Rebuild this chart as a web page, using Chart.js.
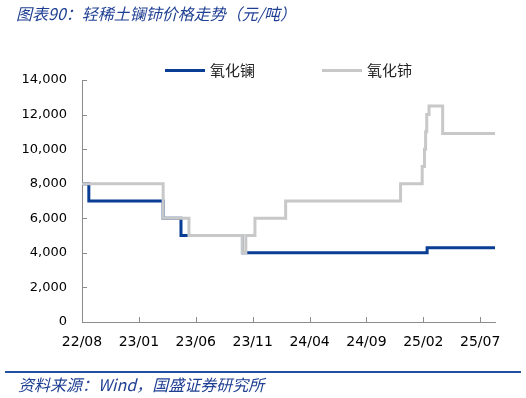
<!DOCTYPE html>
<html>
<head>
<meta charset="utf-8">
<script src="https://cdn.jsdelivr.net/npm/chart.js@4"></script>
<style>
  html, body { margin: 0; padding: 0; background: #fff; }
  #wrap { position: relative; width: 526px; height: 398px; overflow: hidden; }
  canvas { position: absolute; left: 0; top: 0; }
  .title { position: absolute; left: 16px; top: 3px; font: italic 16px "Noto Sans CJK SC", sans-serif; color: #1f3f93; white-space: nowrap; line-height: 20px; }
  .foot-line { position: absolute; left: 5px; top: 371px; width: 516px; height: 2px; background: #2450a0; }
  .foot { position: absolute; left: 18px; top: 374px; font: italic 16px "Noto Sans CJK SC", sans-serif; color: #1f3f93; white-space: nowrap; line-height: 20px; }
  .legend { position: absolute; top: 61px; left: 0; height: 18px; font: 15px "Noto Sans CJK SC", sans-serif; color: #222; white-space: nowrap; line-height: 18px; }
  .legend .item { position: absolute; top: 0; }
  .legend .sw { position: absolute; top: 7.5px; width: 40px; height: 3px; }
  .legend .tx { position: absolute; left: 45px; top: 0; }
</style>
</head>
<body>
<div id="wrap">
  <canvas id="c" width="526" height="398"></canvas>
  <div class="title">图表90：轻稀土镧铈价格走势（元/吨）</div>
  <div class="legend">
    <div class="item" style="left:165px"><div class="sw" style="background:#0a3e94"></div><div class="tx">氧化镧</div></div>
    <div class="item" style="left:322px"><div class="sw" style="background:#c8c8c8"></div><div class="tx">氧化铈</div></div>
  </div>
  <div class="foot-line"></div>
  <div class="foot">资料来源：Wind，国盛证券研究所</div>
</div>
<script>
// ---- data ----
const seriesNames = ['氧化镧', '氧化铈'];
// change dates (value holds from that date) and values, yuan/ton
const laDates  = ['2022-08-01','2022-08-19','2023-03-05','2023-04-22','2023-10-04','2025-02-11','2025-08-10'];
const laValues = [8000, 7000, 6000, 5000, 4000, 4300, 4300];
const ceDates  = ['2022-08-01','2023-03-05','2023-05-13','2023-10-04','2023-10-13','2023-11-07','2024-01-28','2024-12-01','2025-01-28','2025-02-04','2025-02-07','2025-02-10','2025-02-16','2025-03-22','2025-08-10'];
const ceValues = [8000, 6000, 5000, 4000, 5000, 6000, 7000, 8000, 9000, 10000, 11000, 12000, 12500, 10900, 10900];
const xTickLabels = ['22/08','23/01','23/06','23/11','24/04','24/09','25/02','25/07'];
const xTickDates  = ['2022-08-01','2023-01-01','2023-06-01','2023-11-01','2024-04-01','2024-09-01','2025-02-01','2025-07-01'];
const yTicks = [0, 2000, 4000, 6000, 8000, 10000, 12000, 14000];
const xEndDate = '2025-08-10';

// ---- helpers ----
function monthsOf(s) {
  const [y, m, d] = s.split('-').map(Number);
  return (y - 2022) * 12 + (m - 8) + (d - 1) / 30;
}
const toPoints = (dates, vals) => dates.map((d, i) => ({ x: monthsOf(d), y: vals[i] }));

const axisColor = '#8c8c8c';
const innerTicks = {
  id: 'innerTicks',
  beforeDatasetsDraw(chart) {
    const { ctx, chartArea, scales: { x, y } } = chart;
    ctx.save();
    ctx.strokeStyle = axisColor;
    ctx.lineWidth = 1;
    ctx.beginPath();
    y.ticks.forEach((t, i) => {
      const py = Math.round(y.getPixelForTick(i)) + 0.5;
      ctx.moveTo(chartArea.left, py); ctx.lineTo(chartArea.left + 5, py);
    });
    x.ticks.forEach((t, i) => {
      const px = Math.round(x.getPixelForTick(i)) + 0.5;
      ctx.moveTo(px, chartArea.bottom); ctx.lineTo(px, chartArea.bottom - 5);
    });
    ctx.stroke();
    ctx.restore();
  }
};

new Chart(document.getElementById('c'), {
  type: 'line',
  data: {
    datasets: [
      { label: seriesNames[0], data: toPoints(laDates, laValues), borderColor: '#0a3e94', borderWidth: 3, stepped: 'before', pointRadius: 0, order: 2, borderJoinStyle: 'miter' },
      { label: seriesNames[1], data: toPoints(ceDates, ceValues), borderColor: '#c8c8c8', borderWidth: 3, stepped: 'before', pointRadius: 0, order: 1, borderJoinStyle: 'miter' }
    ]
  },
  options: {
    responsive: false,
    animation: false,
    layout: { padding: { left: 0, right: 31, top: 80, bottom: 46 } },
    plugins: { legend: { display: false }, tooltip: { enabled: false }, title: { display: false } },
    scales: {
      x: {
        type: 'linear',
        min: 0,
        max: monthsOf(xEndDate),
        afterBuildTicks: (s) => { s.ticks = xTickDates.map(d => ({ value: monthsOf(d) })); },
        afterFit: (s) => { s.height = 30; },
        grid: { display: true, drawOnChartArea: false, drawTicks: false },
        border: { display: true, color: axisColor, width: 1 },
        ticks: { autoSkip: false, maxRotation: 0, padding: 12, color: '#000', font: { family: 'DejaVu Sans', size: 14 }, callback: (v, i) => xTickLabels[i] }
      },
      y: {
        min: 0,
        max: 14000,
        afterBuildTicks: (s) => { s.ticks = yTicks.map(v => ({ value: v })); },
        afterFit: (s) => { s.width = 82; },
        grid: { display: true, drawOnChartArea: false, drawTicks: false },
        border: { display: true, color: axisColor, width: 1 },
        ticks: { padding: 15, color: '#000', font: { family: 'DejaVu Sans', size: 13 }, callback: (v) => v.toLocaleString('en-US') }
      }
    }
  },
  plugins: [innerTicks]
});
</script>
</body>
</html>
